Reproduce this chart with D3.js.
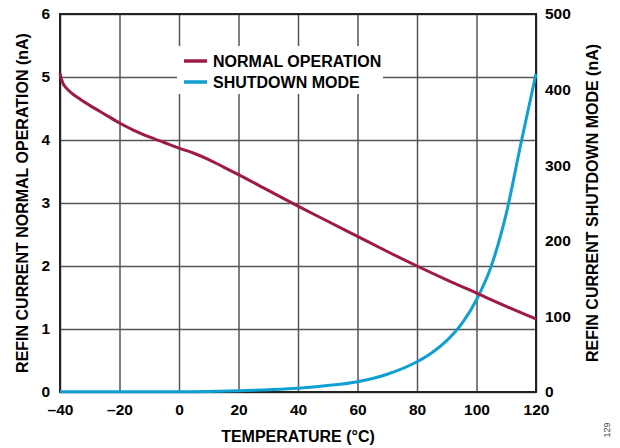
<!DOCTYPE html>
<html>
<head>
<meta charset="utf-8">
<script src="https://cdn.jsdelivr.net/npm/d3@7"></script>
<style>
  body { margin: 0; background: #fff; }
  text { font-family: "Liberation Sans", Arial, sans-serif; font-weight: bold; fill: #000; }
</style>
</head>
<body>
<div id="chart"></div>
<script>
// Data
var tempNormal = [-40, -39.5, -39, -38, -36, -33, -30, -25, -20, -15, -10, -5, 0, 5, 10, 15, 20, 30, 40, 50, 60, 70, 80, 90, 100, 110, 120];
var normalOp =   [5.06, 4.96, 4.9, 4.83, 4.74, 4.64, 4.55, 4.41, 4.27, 4.15, 4.05, 3.96, 3.87, 3.79, 3.69, 3.57, 3.45, 3.2, 2.95, 2.71, 2.47, 2.23, 2.0, 1.78, 1.57, 1.36, 1.16];

var tempShutdown = [-40, -20, 0, 10, 20, 30, 40, 50, 60, 70, 80, 85, 90, 95, 100, 105, 110, 115, 120];
var shutdownMode = [0.2, 0.2, 0.3, 0.6, 1.5, 3, 5, 8.5, 13.6, 23.5, 40, 52, 68, 90, 122, 167, 236, 330, 421];

var xTicks = [-40, -20, 0, 20, 40, 60, 80, 100, 120];
var yLeftTicks = [0, 1, 2, 3, 4, 5, 6];
var yRightTicks = [0, 100, 200, 300, 400, 500];

var seriesNames = ["NORMAL OPERATION", "SHUTDOWN MODE"];
var seriesColors = ["#9d1b45", "#0ea0d3"];

// Layout (window.top is reserved, so use plot* names)
var width = 620, height = 448;
var plotLeft = 60, plotRight = 536, plotTop = 14, plotBottom = 392;

var svg = d3.select("#chart").append("svg")
    .attr("width", width)
    .attr("height", height);

var xScale = d3.scaleLinear().domain([-40, 120]).range([plotLeft, plotRight]);
var yLeft = d3.scaleLinear().domain([0, 6]).range([plotBottom, plotTop]);
var yRight = d3.scaleLinear().domain([0, 500]).range([plotBottom, plotTop]);

function fmt(d) { return d < 0 ? "\u2013" + Math.abs(d) : String(d); }

function styleTicks(sel) {
  sel.selectAll("text")
      .attr("fill", "#000")
      .style("font-size", "15.5px")
      .style("font-family", "Liberation Sans, Arial, sans-serif")
      .style("font-weight", "bold");
}

// Grid lines
svg.append("g")
    .attr("transform", "translate(0," + plotBottom + ")")
    .call(d3.axisBottom(xScale).tickValues(xTicks).tickSize(-(plotBottom - plotTop)).tickFormat(""))
    .call(function(g) { g.select(".domain").remove(); })
    .selectAll("line").attr("stroke", "#555").attr("stroke-width", 1.5);

svg.append("g")
    .attr("transform", "translate(" + plotLeft + ",0)")
    .call(d3.axisLeft(yLeft).tickValues(yLeftTicks).tickSize(-(plotRight - plotLeft)).tickFormat(""))
    .call(function(g) { g.select(".domain").remove(); })
    .selectAll("line").attr("stroke", "#555").attr("stroke-width", 1.5);

// Legend box covers the grid
svg.append("rect")
    .attr("x", 177).attr("y", 46)
    .attr("width", 206).attr("height", 48)
    .attr("fill", "#fff");

// Plot border
svg.append("rect")
    .attr("x", plotLeft).attr("y", plotTop)
    .attr("width", plotRight - plotLeft).attr("height", plotBottom - plotTop)
    .attr("fill", "none")
    .attr("stroke", "#222")
    .attr("stroke-width", 2);

// Tick labels
svg.append("g")
    .attr("transform", "translate(0," + plotBottom + ")")
    .call(d3.axisBottom(xScale).tickValues(xTicks).tickSize(0).tickPadding(12).tickFormat(fmt))
    .call(function(g) { g.select(".domain").remove(); })
    .call(styleTicks);

svg.append("g")
    .attr("transform", "translate(" + (plotLeft - 10) + ",0)")
    .call(d3.axisLeft(yLeft).tickValues(yLeftTicks).tickSize(0).tickPadding(0).tickFormat(d3.format("d")))
    .call(function(g) { g.select(".domain").remove(); })
    .call(styleTicks);

svg.append("g")
    .attr("transform", "translate(" + (plotRight + 9) + ",0)")
    .call(d3.axisRight(yRight).tickValues(yRightTicks).tickSize(0).tickPadding(0).tickFormat(d3.format("d")))
    .call(function(g) { g.select(".domain").remove(); })
    .call(styleTicks);

// Axis titles
svg.append("text")
    .attr("x", (plotLeft + plotRight) / 2)
    .attr("y", 442)
    .style("text-anchor", "middle")
    .style("font-size", "16px")
    .text("TEMPERATURE (\u00B0C)");

svg.append("text")
    .attr("transform", "rotate(-90)")
    .attr("x", -(plotTop + plotBottom) / 2)
    .attr("y", 28)
    .style("text-anchor", "middle")
    .style("font-size", "16px")
    .text("REFIN CURRENT NORMAL OPERATION (nA)");

svg.append("text")
    .attr("transform", "rotate(-90)")
    .attr("x", -(plotTop + plotBottom) / 2)
    .attr("y", 598)
    .style("text-anchor", "middle")
    .style("font-size", "16px")
    .text("REFIN CURRENT SHUTDOWN MODE (nA)");

svg.append("text")
    .attr("transform", "rotate(-90)")
    .attr("x", -430)
    .attr("y", 610)
    .style("text-anchor", "middle")
    .style("font-size", "9px")
    .style("font-weight", "normal")
    .style("fill", "#444")
    .text("129");

// Curves
var lineLeft = d3.line()
    .x(function(d, i) { return xScale(tempNormal[i]); })
    .y(function(d) { return yLeft(d); })
    .curve(d3.curveMonotoneX);

var lineRight = d3.line()
    .x(function(d, i) { return xScale(tempShutdown[i]); })
    .y(function(d) { return yRight(d); })
    .curve(d3.curveMonotoneX);

svg.append("path")
    .datum(shutdownMode)
    .attr("fill", "none")
    .attr("stroke", seriesColors[1])
    .attr("stroke-width", 3)
    .attr("d", lineRight);

svg.append("path")
    .datum(normalOp)
    .attr("fill", "none")
    .attr("stroke", seriesColors[0])
    .attr("stroke-width", 3)
    .attr("d", lineLeft);

// Legend
var legend = svg.selectAll(".legend")
    .data(seriesNames)
  .enter().append("g")
    .attr("class", "legend")
    .attr("transform", function(d, i) { return "translate(184," + (61 + i * 21) + ")"; });

legend.append("line")
    .attr("x1", 0).attr("x2", 23)
    .attr("stroke", function(d, i) { return seriesColors[i]; })
    .attr("stroke-width", 3.5);

legend.append("text")
    .attr("x", 29)
    .attr("y", 5.5)
    .style("font-size", "16px")
    .text(function(d) { return d; });
</script>
</body>
</html>
